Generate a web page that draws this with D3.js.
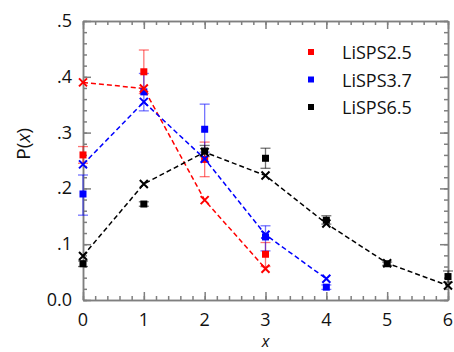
<!DOCTYPE html>
<html>
<head>
<meta charset="utf-8">
<script src="https://cdn.jsdelivr.net/npm/d3@7"></script>
<style>
body { margin: 0; background: #fff; }
text { font-family: "Open Sans", "Noto Sans", sans-serif; fill: #111; }
</style>
</head>
<body>
<svg width="454" height="352"></svg>
<script>
// data
xVals = [0, 1, 2, 3, 4, 5, 6]
seriesNames = ['LiSPS2.5', 'LiSPS3.7', 'LiSPS6.5']
seriesColors = ['#ff0000', '#0000ff', '#000000']

// measured (squares) with error bars [low, high]
obs25 = [0.260, 0.409, 0.252, 0.082]
err25 = [[0.245, 0.275], [0.370, 0.448], [0.221, 0.283], [0.060, 0.103]]
obs37 = [0.190, 0.373, 0.306, 0.113, 0.023]
err37 = [[0.152, 0.224], [0.339, 0.406], [0.265, 0.351], [0.088, 0.133], [0.019, 0.027]]
obs65 = [0.065, 0.172, 0.267, 0.254, 0.143, 0.065, 0.042]
err65 = [[0.060, 0.070], [0.168, 0.176], [0.257, 0.277], [0.236, 0.272], [0.136, 0.151], [0.062, 0.068], [0.032, 0.052]]

// model (crosses joined by dashed line)
mod25 = [0.390, 0.379, 0.179, 0.056]
mod37 = [0.243, 0.355, 0.253, 0.117, 0.038]
mod65 = [0.079, 0.208, 0.265, 0.223, 0.137, 0.066, 0.026]

yTicks = [0, 0.1, 0.2, 0.3, 0.4, 0.5]
yTickLabels = ['0.0', '.1', '.2', '.3', '.4', '.5']

let svg = d3.select('svg')
let mLeft = 83, mRight = 448, mTop = 21, mBottom = 300

let x = d3.scaleLinear().domain([0, 6]).range([mLeft, mRight])
let y = d3.scaleLinear().domain([0, 0.5]).range([mBottom, mTop])

axisColor = '#7f7f7f'

// frame axes with inward ticks
function frameAxis(makeAxis, tr, major, minor) {
    let g = svg.append('g').attr('transform', tr)
    g.call(makeAxis().tickValues(minor).tickSize(4).tickSizeOuter(0).tickFormat(''))
    g.append('g').call(makeAxis().tickValues(major).tickSize(8).tickSizeOuter(0).tickFormat(''))
    g.selectAll('line, path').attr('stroke', axisColor).attr('stroke-width', 1.5)
    return g
}
let xMinor = d3.range(0, 6.001, 0.2), xMajor = xVals
let yMinor = d3.range(0, 0.5001, 0.02), yMajor = yTicks

frameAxis(() => d3.axisTop(x), `translate(0,${mBottom})`, xMajor, xMinor)
frameAxis(() => d3.axisBottom(x), `translate(0,${mTop})`, xMajor, xMinor)
frameAxis(() => d3.axisRight(y), `translate(${mLeft},0)`, yMajor, yMinor)
frameAxis(() => d3.axisLeft(y), `translate(${mRight},0)`, yMajor, yMinor)

// tick labels
svg.append('g').selectAll('text').data(xVals).enter().append('text')
    .attr('x', d => x(d)).attr('y', 326)
    .attr('text-anchor', 'middle').attr('font-size', 18)
    .text(d => d)
svg.append('g').selectAll('text').data(yTicks).enter().append('text')
    .attr('x', 72).attr('y', d => y(d) + 6)
    .attr('text-anchor', 'end').attr('font-size', 18)
    .text((d, i) => yTickLabels[i])

// axis titles
let xt = svg.append('text').attr('x', x(3)).attr('y', 347).attr('text-anchor', 'middle').attr('font-size', 16)
xt.append('tspan').attr('font-style', 'italic').text('x')
let yt = svg.append('text').attr('transform', `translate(30,${y(0.28)}) rotate(-90)`).attr('text-anchor', 'middle').attr('font-size', 19)
yt.append('tspan').text('P(')
yt.append('tspan').attr('font-style', 'italic').text('x')
yt.append('tspan').text(')')

series = [
    {obs: obs25, err: err25, mod: mod25},
    {obs: obs37, err: err37, mod: mod37},
    {obs: obs65, err: err65, mod: mod65}
]

let line = d3.line().x((d, i) => x(xVals[i])).y(d => y(d))

let plot = svg.append('g')

// dashed model lines
series.forEach((s, k) => {
    plot.append('path').attr('d', line(s.mod))
        .attr('fill', 'none').attr('stroke', seriesColors[k])
        .attr('stroke-width', 1.5).attr('stroke-dasharray', '5,3')
})

// error bars
series.forEach((s, k) => {
    let g = plot.append('g').attr('stroke', seriesColors[k]).attr('stroke-opacity', 0.55).attr('stroke-width', 1.3)
    s.err.forEach((e, i) => {
        let cx = x(xVals[i])
        g.append('line').attr('x1', cx).attr('x2', cx).attr('y1', y(e[0])).attr('y2', y(e[1]))
        g.append('line').attr('x1', cx - 5).attr('x2', cx + 5).attr('y1', y(e[0])).attr('y2', y(e[0]))
        g.append('line').attr('x1', cx - 5).attr('x2', cx + 5).attr('y1', y(e[1])).attr('y2', y(e[1]))
    })
})

// squares
series.forEach((s, k) => {
    plot.append('g').selectAll('rect').data(s.obs).enter().append('rect')
        .attr('x', (d, i) => x(xVals[i]) - 3.5).attr('y', d => y(d) - 3.5)
        .attr('width', 7).attr('height', 7).attr('fill', seriesColors[k])
})

// crosses
series.forEach((s, k) => {
    let g = plot.append('g').attr('stroke', seriesColors[k]).attr('stroke-width', 2)
    s.mod.forEach((d, i) => {
        let cx = x(xVals[i]), cy = y(d), r = 4
        g.append('path').attr('d', `M${cx - r},${cy - r}L${cx + r},${cy + r}M${cx - r},${cy + r}L${cx + r},${cy - r}`)
    })
})

// legend
let legend = svg.append('g')
seriesNames.forEach((name, k) => {
    let ly = 52 + k * 27.5
    legend.append('rect').attr('x', 308).attr('y', ly - 3).attr('width', 6).attr('height', 6).attr('fill', seriesColors[k])
    legend.append('text').attr('x', 342).attr('y', ly + 7).attr('font-size', 18).text(name)
})
</script>
</body>
</html>
